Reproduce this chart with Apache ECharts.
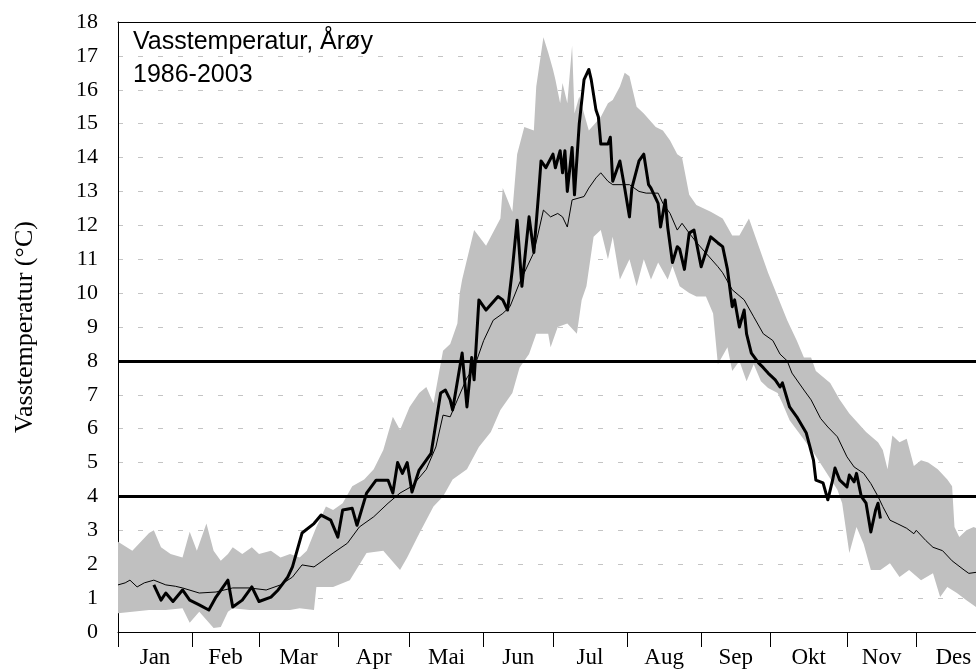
<!DOCTYPE html>
<html>
<head>
<meta charset="utf-8">
<title>Vasstemperatur, Årøy</title>
<script src="https://cdn.jsdelivr.net/npm/echarts@6/dist/echarts.min.js"></script>
<style>
  html, body { margin: 0; padding: 0; background: #fff; }
  #chart { width: 976px; height: 670px; }
</style>
</head>
<body>
<div id="chart"></div>
<script>
  // månedsnavn og posisjon (dag i året) for månedsstart
  var months = ['Jan', 'Feb', 'Mar', 'Apr', 'Mai', 'Jun', 'Jul', 'Aug', 'Sep', 'Okt', 'Nov', 'Des'];
  var monthStarts = [0, 31, 59, 92, 122, 153, 182, 213, 244, 273, 305, 334, 365];

  // referansenivå (°C)
  var refLevels = [4, 8];

  // maks 1986-2003 [dag, °C]
  var bandMax = [
    [0, 2.66], [6, 2.4], [13, 2.92], [15, 3.0], [18, 2.5], [22, 2.3], [27, 2.2], [30, 2.96],
    [33, 2.4], [37, 3.2], [40, 2.4], [43, 2.1], [46, 2.3], [48, 2.5], [52, 2.3], [56, 2.5],
    [59, 2.3], [64, 2.4], [68, 2.2], [72, 2.3], [76, 2.2], [79, 2.4], [83, 3.1], [87, 3.7],
    [90, 3.6], [94, 3.8], [98, 4.3], [103, 4.5], [107, 4.8], [111, 5.37], [115, 6.35], [118, 5.96],
    [122, 6.64], [126, 7.05], [129, 7.23], [132, 6.75], [136, 8.3], [139, 8.5], [142, 9.1],
    [143, 10.0], [144, 10.4], [149, 11.86], [154, 11.4], [160, 12.2], [161, 13.1], [165, 12.4],
    [167, 14.1], [170, 14.9], [174, 14.8], [175, 16.1], [178, 17.55], [180, 17.1], [182, 16.6],
    [183, 16.3], [185, 15.6], [186, 16.2], [188, 15.6], [190, 17.3], [191, 15.3], [193, 15.8],
    [197, 14.8], [202, 15.2], [205, 15.6], [207, 15.7], [210, 16.1], [212, 16.5], [214, 16.4],
    [217, 15.5], [220, 15.3], [225, 14.9], [228, 14.8], [231, 14.5], [234, 14.1], [236, 14.0],
    [239, 12.9], [242, 12.6], [248, 12.4], [253, 12.2], [257, 11.7], [260, 11.7], [264, 12.2],
    [269, 11.2], [272, 10.6], [276, 9.9], [280, 9.2], [284, 8.6], [287, 8.1], [290, 8.1],
    [292, 7.7], [298, 7.35], [302, 6.85], [306, 6.45], [313, 5.9], [318, 5.6], [320, 5.37],
    [322, 4.8], [324, 5.8], [327, 5.6], [330, 5.7], [333, 4.9], [336, 5.07], [339, 5.0],
    [343, 4.8], [347, 4.5], [349, 4.3], [350, 3.1], [352, 2.8], [355, 3.0], [358, 3.1], [365, 2.9]
  ];

  // min 1986-2003 [dag, °C]
  var bandMin = [
    [0, 0.55], [6, 0.6], [13, 0.65], [20, 0.65], [27, 0.7], [30, 0.27], [34, 0.6], [40, 0.12],
    [43, 0.15], [46, 0.6], [48, 0.7], [55, 0.65], [64, 0.65], [72, 0.65], [76, 0.7], [82, 0.65],
    [83, 1.33], [90, 1.33], [97, 1.53], [104, 2.33], [111, 2.4], [118, 1.83], [121, 2.2],
    [126, 2.9], [132, 3.7], [136, 4.0], [140, 4.5], [146, 4.8], [151, 5.46], [156, 5.9],
    [160, 6.55], [165, 7.05], [168, 7.8], [172, 8.2], [175, 8.8], [180, 8.8], [181, 8.4],
    [184, 9.0], [188, 9.1], [192, 8.8], [194, 9.8], [196, 10.2], [199, 11.66], [202, 11.86],
    [205, 11.0], [207, 11.66], [210, 10.4], [214, 11.0], [217, 10.2], [220, 11.0], [223, 10.4],
    [226, 10.9], [230, 10.4], [232, 10.8], [235, 10.2], [239, 10.0], [242, 9.9], [246, 9.9],
    [249, 9.4], [251, 7.9], [255, 8.4], [257, 7.7], [260, 8.0], [263, 7.4], [266, 7.9],
    [269, 7.4], [272, 7.2], [276, 7.05], [278, 6.75], [281, 6.25], [291, 5.3], [301, 4.2],
    [303, 3.8], [306, 2.33], [309, 3.1], [312, 2.6], [315, 1.83], [319, 1.83], [323, 2.03],
    [327, 1.62], [331, 1.83], [336, 1.53], [341, 1.73], [344, 1.03], [347, 1.33], [351, 1.15],
    [355, 0.94], [359, 0.74], [365, 0.7]
  ];

  // middel 1986-2003 [dag, °C]
  var meanTemp = [
    [0, 1.39], [3, 1.45], [5, 1.53], [8, 1.33], [11, 1.45], [15, 1.53], [20, 1.39], [24, 1.35],
    [27, 1.3], [34, 1.15], [41, 1.18], [48, 1.3], [55, 1.3], [62, 1.24], [68, 1.39], [73, 1.62],
    [77, 1.98], [82, 1.92], [85, 2.07], [90, 2.33], [96, 2.62], [101, 3.1], [107, 3.4],
    [113, 3.8], [118, 4.1], [123, 4.3], [129, 4.8], [133, 5.46], [136, 6.4], [139, 6.35],
    [142, 6.85], [146, 7.5], [149, 7.8], [153, 8.6], [157, 9.2], [161, 9.4], [164, 9.6],
    [168, 10.3], [174, 11.2], [178, 12.45], [181, 12.25], [184, 12.35], [186, 12.25],
    [188, 11.95], [190, 12.75], [195, 12.85], [197, 13.1], [200, 13.4], [202, 13.55],
    [205, 13.3], [207, 13.2], [211, 13.2], [214, 13.2], [218, 13.0], [221, 12.95], [226, 12.95],
    [228, 12.65], [231, 12.35], [234, 11.86], [236, 12.06], [239, 11.77], [242, 11.5],
    [246, 11.18], [251, 10.78], [253, 10.6], [257, 10.1], [262, 9.8], [266, 9.3], [270, 8.8],
    [274, 8.6], [277, 8.2], [280, 8.0], [282, 7.64], [287, 7.14], [290, 6.85], [294, 6.3],
    [297, 6.05], [301, 5.76], [305, 5.17], [308, 4.87], [312, 4.68], [315, 4.38], [318, 4.0],
    [320, 3.7], [323, 3.3], [326, 3.2], [330, 3.06], [333, 2.9], [334, 3.0], [338, 2.7],
    [341, 2.5], [345, 2.4], [349, 2.1], [354, 1.83], [356, 1.73], [359, 1.76], [365, 1.6]
  ];

  // enkeltår [dag, °C]
  var yearTemp = [
    [15, 1.39], [18, 0.94], [20, 1.15], [23, 0.9], [27, 1.24], [30, 0.94], [34, 0.8], [38, 0.65],
    [41, 1.03], [46, 1.53], [48, 0.74], [52, 0.94], [56, 1.33], [59, 0.9], [64, 1.03], [67, 1.24],
    [71, 1.62], [73, 1.92], [77, 2.92], [82, 3.2], [85, 3.45], [89, 3.3], [92, 2.8], [94, 3.6],
    [98, 3.65], [100, 3.15], [104, 4.1], [108, 4.48], [113, 4.48], [115, 4.1], [117, 5.0],
    [119, 4.68], [121, 5.0], [123, 4.13], [126, 4.78], [131, 5.27], [135, 7.05], [137, 7.14],
    [139, 6.85], [140, 6.55], [144, 8.23], [146, 6.64], [148, 8.1], [149, 7.44], [151, 9.8],
    [154, 9.5], [159, 9.9], [161, 9.8], [163, 9.5], [165, 10.7], [167, 12.15], [169, 10.2],
    [172, 12.25], [174, 11.2], [176, 12.95], [177, 13.9], [179, 13.7], [182, 14.1], [183, 13.7],
    [185, 14.2], [186, 13.55], [187, 14.2], [188, 13.0], [190, 14.3], [191, 12.9], [193, 15.0],
    [195, 16.3], [197, 16.6], [198, 16.3], [200, 15.4], [201, 15.2], [202, 14.4], [205, 14.4],
    [206, 14.6], [207, 13.3], [210, 13.9], [212, 13.1], [214, 12.25], [215, 13.1], [218, 13.9],
    [220, 14.1], [222, 13.2], [223, 13.1], [226, 12.65], [227, 11.95], [229, 12.75], [230, 11.95],
    [232, 10.9], [234, 11.37], [235, 11.3], [237, 10.7], [239, 11.77], [241, 11.86], [244, 10.78],
    [248, 11.66], [251, 11.48], [253, 11.37], [255, 10.7], [257, 9.6], [258, 9.8], [260, 9.0],
    [262, 9.5], [263, 8.8], [265, 8.23], [268, 7.94], [270, 7.8], [272, 7.64], [275, 7.44],
    [277, 7.23], [278, 7.35], [281, 6.64], [284, 6.35], [288, 5.87], [291, 5.07], [292, 4.48],
    [295, 4.4], [297, 3.9], [299, 4.48], [300, 4.84], [302, 4.48], [305, 4.28], [306, 4.63],
    [308, 4.43], [309, 4.68], [311, 4.0], [313, 3.8], [315, 2.95], [317, 3.6], [318, 3.8], [319, 3.35]
  ];

  // midt i hver måned, der etiketten står
  var monthMids = months.map(function (m, i) {
    return (monthStarts[i] + monthStarts[i + 1]) / 2;
  });

  // bildet er kuttet i høyre kant: siste synlige dag
  var lastVisibleDay = 359;

  var serif = '"Liberation Serif", "DejaVu Serif", serif';

  var chart = echarts.init(document.getElementById('chart'), null, { renderer: 'canvas' });

  var option = {
    animation: false,
    backgroundColor: '#fff',
    title: {
      text: 'Vasstemperatur, Årøy\n1986-2003',
      left: 133,
      top: 26,
      padding: 0,
      textStyle: {
        fontFamily: '"Liberation Sans", Arial, sans-serif',
        fontSize: 25,
        fontWeight: 'normal',
        lineHeight: 33,
        color: '#000'
      }
    },
    grid: {
      left: 118,
      right: 0,
      top: 22,
      bottom: 38,
      show: false
    },
    xAxis: [
      {
        type: 'value',
        min: 0,
        max: lastVisibleDay,
        axisLine: { show: true, lineStyle: { color: '#000', width: 1 } },
        axisTick: {
          show: true,
          length: 15,
          customValues: monthStarts.slice(0, 12),
          lineStyle: { color: '#000', width: 1 }
        },
        axisLabel: {
          customValues: monthMids,
          margin: 14,
          fontFamily: serif,
          fontSize: 23,
          color: '#000',
          formatter: function (v) {
            var i = monthMids.indexOf(v);
            return i >= 0 ? months[i] : '';
          }
        },
        splitLine: { show: false }
      },
      {
        // bare toppkanten av plottet
        type: 'value',
        position: 'top',
        min: 0,
        max: lastVisibleDay,
        axisLine: { show: true, onZero: false, lineStyle: { color: '#000', width: 1 } },
        axisTick: { show: false },
        axisLabel: { show: false },
        splitLine: { show: false }
      }
    ],
    yAxis: {
      type: 'value',
      min: 0,
      max: 18,
      interval: 1,
      name: 'Vasstemperatur (°C)',
      nameLocation: 'middle',
      nameGap: 80,
      nameTextStyle: { fontFamily: serif, fontSize: 26, color: '#000' },
      axisLine: { show: true, lineStyle: { color: '#000', width: 1 } },
      axisTick: { show: false },
      axisLabel: { margin: 20, fontFamily: serif, fontSize: 22, color: '#000' },
      splitLine: { show: true, lineStyle: { color: '#c4c4c4', width: 1, type: [5, 15] } }
    },
    series: [
      {
        // grått felt mellom min og maks
        name: 'Variasjon',
        type: 'custom',
        coordinateSystem: 'cartesian2d',
        data: [[0, 0]],
        clip: true,
        z: 1,
        renderItem: function (params, api) {
          var pts = bandMax.map(function (p) { return api.coord(p); });
          var lower = bandMin.slice().reverse().map(function (p) { return api.coord(p); });
          return {
            type: 'polygon',
            shape: { points: pts.concat(lower) },
            style: { fill: '#c0c0c0', stroke: null }
          };
        }
      },
      {
        name: 'Middel',
        type: 'line',
        data: meanTemp,
        showSymbol: false,
        z: 3,
        lineStyle: { color: '#000', width: 1 }
      },
      {
        name: 'År',
        type: 'line',
        data: yearTemp,
        showSymbol: false,
        z: 4,
        lineStyle: { color: '#000', width: 3, join: 'round' },
        markLine: {
          silent: true,
          symbol: ['none', 'none'],
          label: { show: false },
          lineStyle: { color: '#000', width: 3, type: 'solid' },
          data: refLevels.map(function (v) { return { yAxis: v }; })
        }
      }
    ]
  };

  chart.setOption(option);
</script>
</body>
</html>
